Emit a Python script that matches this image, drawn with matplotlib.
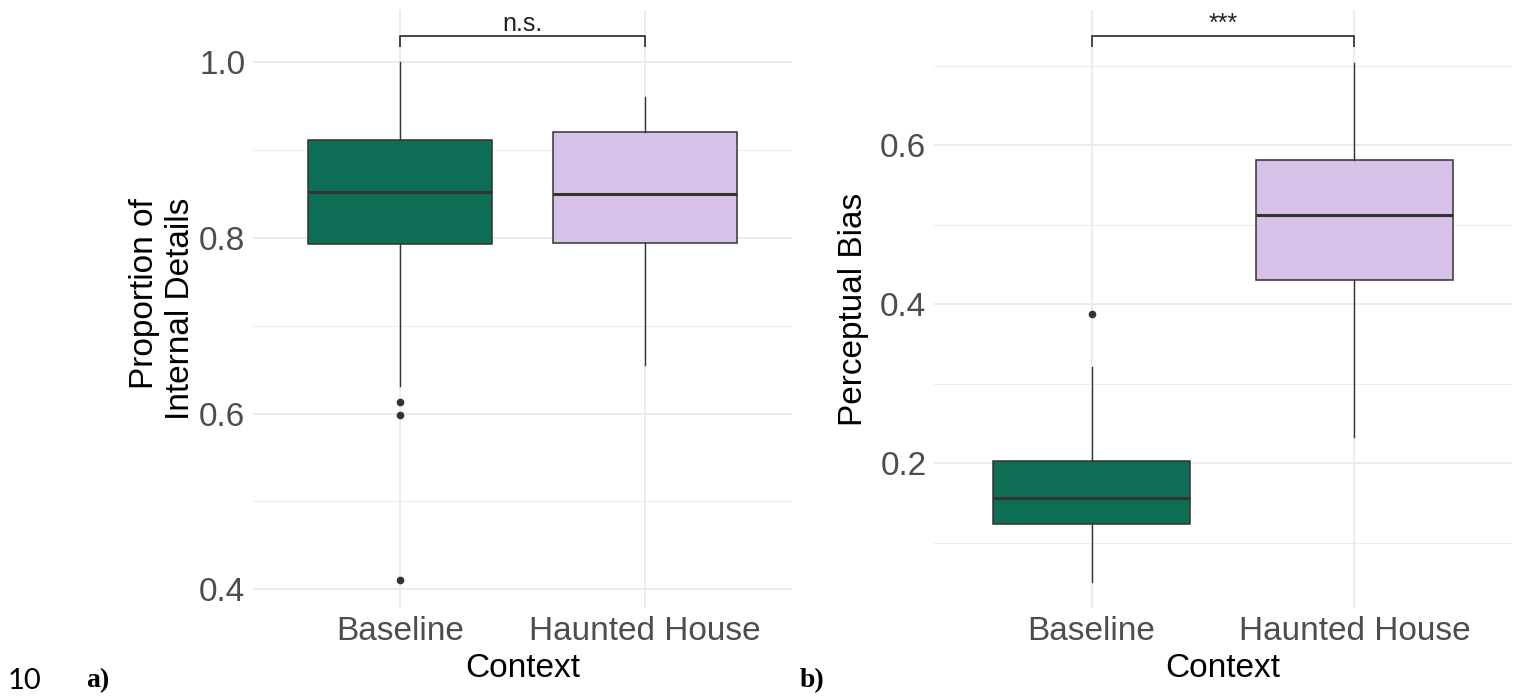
import matplotlib
matplotlib.use("Agg")
import matplotlib.pyplot as plt
from matplotlib.ticker import MultipleLocator, FormatStrFormatter

plt.rcParams['font.family'] = ['Liberation Sans', 'DejaVu Sans']

contexts = ["Baseline", "Haunted House"]
box_colors = ["#0E6E55", "#D8C1E8"]

# a) proportion of internal details
a_whislo = [0.632, 0.655]
a_q1 = [0.793, 0.794]
a_med = [0.852, 0.850]
a_q3 = [0.911, 0.921]
a_whishi = [1.000, 0.961]
a_fliers = [[0.613, 0.598, 0.411], []]
a_sig = "n.s."

# b) perceptual bias
b_whislo = [0.051, 0.233]
b_q1 = [0.123, 0.430]
b_med = [0.156, 0.512]
b_q3 = [0.203, 0.581]
b_whishi = [0.321, 0.703]
b_fliers = [[0.388], []]
b_sig = "***"

grid_col = "#EBEBEB"
edge_col = "#333333"
tick_col = "#4D4D4D"


def draw_panel(ax, whislo, q1, med, q3, whishi, fliers, ylabel, ylim,
               sig, br_y, br_drop, sig_y, ylab_x, multialign):
    stats = []
    for i, name in enumerate(contexts):
        stats.append(dict(label=name, whislo=whislo[i], q1=q1[i], med=med[i],
                          q3=q3[i], whishi=whishi[i], fliers=fliers[i]))
    bp = ax.bxp(stats, positions=[1, 2], widths=0.75, patch_artist=True,
                showcaps=False,
                boxprops=dict(edgecolor=edge_col, linewidth=1.1),
                medianprops=dict(color=edge_col, linewidth=2.2),
                whiskerprops=dict(color=edge_col, linewidth=1.0),
                flierprops=dict(marker='o', markersize=4.5,
                                markerfacecolor=edge_col,
                                markeredgecolor=edge_col))
    for patch, c in zip(bp['boxes'], box_colors):
        patch.set_facecolor(c)

    ax.set_xlim(0.4, 2.6)
    ax.set_ylim(*ylim)
    ax.yaxis.set_major_locator(MultipleLocator(0.2))
    ax.yaxis.set_minor_locator(MultipleLocator(0.1))
    ax.yaxis.set_major_formatter(FormatStrFormatter('%.1f'))
    ax.set_axisbelow(True)
    ax.grid(True, which='major', color=grid_col, linewidth=1.3)
    ax.grid(True, which='minor', axis='y', color=grid_col, linewidth=0.7)
    for s in ax.spines.values():
        s.set_visible(False)
    ax.tick_params(axis='both', which='both', length=0, labelsize=24,
                   labelcolor=tick_col)
    ax.tick_params(axis='x', pad=6)
    ax.tick_params(axis='y', pad=5.5)

    ax.set_xlabel("Context", fontsize=24, color='black', va='baseline')
    ax.xaxis.set_label_coords(0.5, -0.115)
    ax.set_ylabel(ylabel, fontsize=24, color='black', multialignment=multialign)
    ax.yaxis.set_label_coords(ylab_x, 0.5)

    # significance bracket
    ax.plot([1, 1, 2, 2], [br_y - br_drop, br_y, br_y, br_y - br_drop],
            color='#444444', linewidth=1.4, clip_on=False)
    ax.text(1.5, sig_y, sig, ha='center', va='baseline', fontsize=18,
            color='#222222')


fig = plt.figure(figsize=(15.22, 6.96), dpi=100)
ax1 = fig.add_axes([0.1662, 0.1264, 0.3541, 0.8592])
ax2 = fig.add_axes([0.6137, 0.1264, 0.3797, 0.8592])

draw_panel(ax1, a_whislo, a_q1, a_med, a_q3, a_whishi, a_fliers,
           "Proportion of\nInternal Details", (0.3787, 1.0595),
           a_sig, 1.0297, 0.0115, 1.0356, -0.106, 'right')
draw_panel(ax2, b_whislo, b_q1, b_med, b_q3, b_whishi, b_fliers,
           "Perceptual Bias", (0.0177, 0.770),
           b_sig, 0.737, 0.0125, 0.7437, -0.1125, 'center')

# page margin labels
fig.text(8 / 1522, 1 - 689 / 696, "10", fontsize=21, family='Lato',
         va='baseline', ha='left')
fig.text(86 / 1522, 1 - 687 / 696, "a)", fontsize=20,
         family='Liberation Serif', weight='bold', va='baseline', ha='left')
fig.text(800 / 1522, 1 - 687 / 696, "b)", fontsize=20,
         family='Liberation Serif', weight='bold', va='baseline', ha='left')

fig.savefig("out.png", dpi=100)
